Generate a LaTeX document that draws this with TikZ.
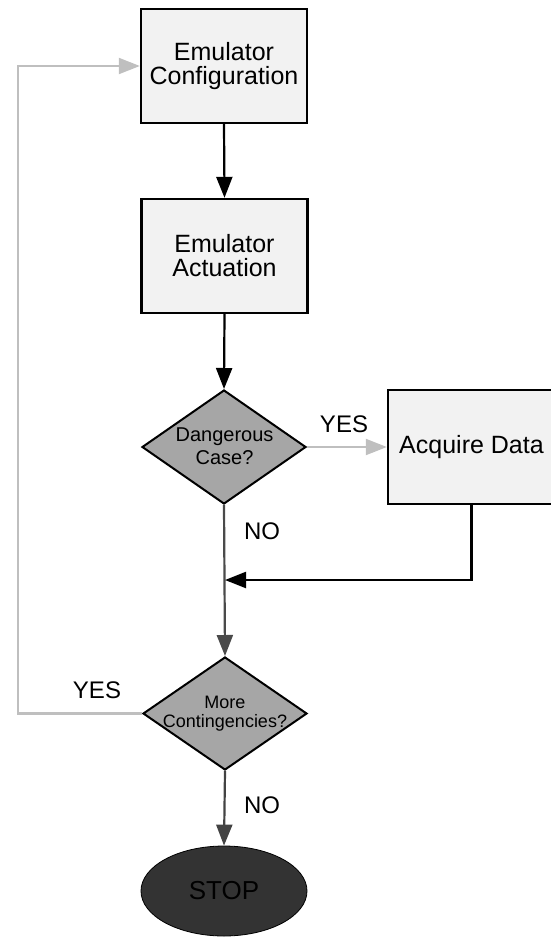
\documentclass[tikz,border=0pt]{standalone}
\usepackage{fontspec}
\setmainfont{Liberation Sans}
\usetikzlibrary{shapes.geometric,arrows.meta}

\definecolor{boxfill}{HTML}{F2F2F2}
\definecolor{decfill}{HTML}{A6A6A6}
\definecolor{stopfill}{HTML}{333333}
\definecolor{lightline}{HTML}{BFBFBF}
\definecolor{darkline}{HTML}{4A4A4A}

\tikzset{
  stepbox/.style={draw=black, line width=2.4pt, fill=boxfill, rectangle,
    minimum width=166pt, minimum height=114pt, inner sep=0pt, align=center,
    font=\fontsize{25}{24}\selectfont},
  decision/.style={draw=black, line width=2pt, fill=decfill, diamond,
    minimum width=164pt, minimum height=114pt, inner sep=0pt},
  dectext/.style={align=center, inner sep=0pt},
  terminal/.style={draw=black, line width=0.8pt, fill=stopfill, ellipse,
    minimum width=166pt, minimum height=90pt, inner sep=0pt,
    font=\fontsize{26}{28}\selectfont, text=black},
  flow/.style={line width=2.2pt, -{Triangle[length=21pt,width=16pt]}},
  answer/.style={font=\fontsize{24}{26}\selectfont, inner sep=0pt}
}

\begin{document}
\begin{tikzpicture}[x=1pt, y=-1pt]
  \useasboundingbox (0,0) rectangle (551,937);
  \clip (0,0) rectangle (551,937);

  % process boxes
  \node[stepbox] (cfg) at (224,66) {Emulator\\Configuration};
  \node[stepbox] (act) at (224.5,256) {Emulator\\Actuation};
  \node[stepbox, minimum width=167pt] (acq) at (471.5,447) {Acquire Data};

  % decisions
  \node[decision] (d1) at (224,447) {};
  \node[dectext, font=\fontsize{20}{23}\selectfont] (d1t) at (224.5,446) {Dangerous\\Case?};
  \node[decision, minimum height=113pt] (d2) at (225,713.5) {};
  \node[dectext, font=\fontsize{18}{19}\selectfont] (d2t) at (225,714) {More\\Contingencies?};

  % end
  \node[terminal] (stop) at (224,891) {STOP};

  % helper points
  \coordinate (join) at (225,580);
  \coordinate (back) at (18,713.5);

  % main flow
  \draw[flow, black] (cfg.south) -- (act.north);
  \draw[flow, black] (act.south) -- (d1.north);
  \draw[flow, lightline] (d1.east) -- (acq.west);
  \draw[flow, darkline] (d1.south) -- (d2.north);
  \draw[flow, black] (acq.south) |- (join);
  \draw[flow, lightline] (d2.west) -- (back) |- (cfg.west);
  \draw[flow, darkline!90!black] (d2.south) -- (stop.north);

  % branch labels
  \node[answer] (yes1) at (344,424) {YES};
  \node[answer] (no1) at (262,531) {NO};
  \node[answer] (yes2) at (97,690) {YES};
  \node[answer] (no2) at (262,805) {NO};
\end{tikzpicture}
\end{document}
